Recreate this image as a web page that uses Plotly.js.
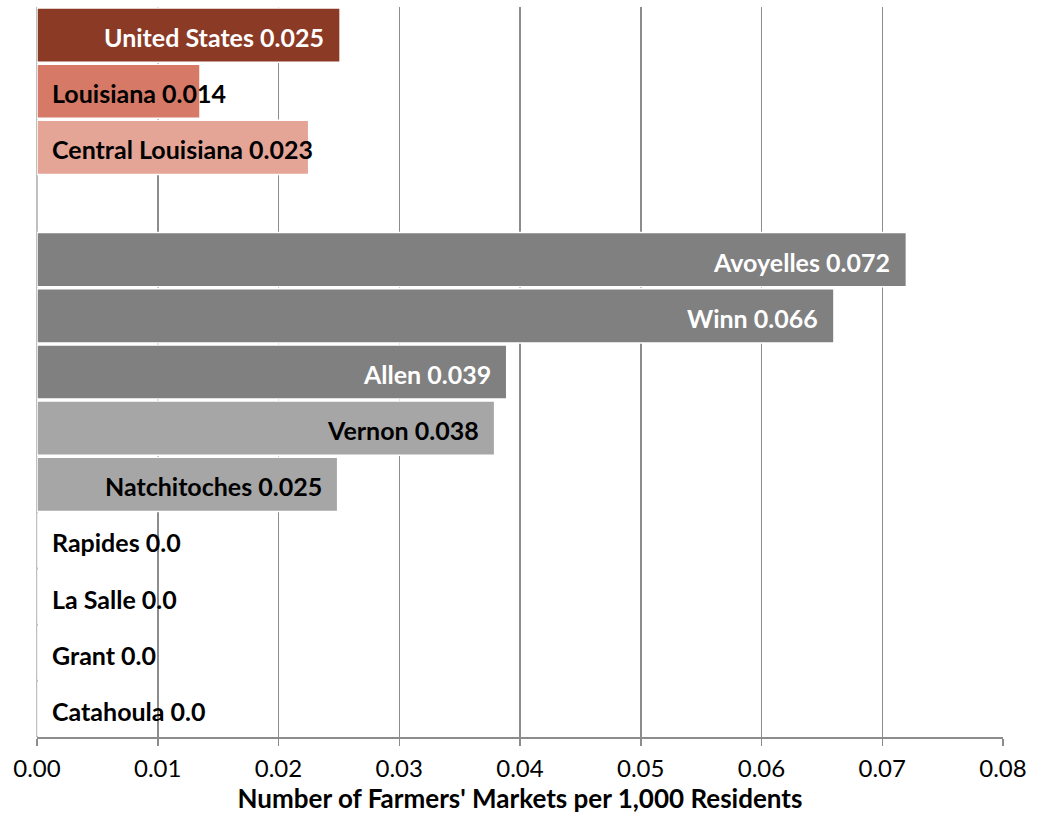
<!DOCTYPE html>
<html>
<head>
<meta charset="utf-8">
<script src="https://cdn.plot.ly/plotly-3.0.1.min.js"></script>
<style>html,body{margin:0;padding:0;background:#fff;}#chart{width:1045px;height:817px;}</style>
</head>
<body>
<div id="chart"></div>
<script>
// Data
var categories = ["United States", "Louisiana", "Central Louisiana", " ", "Avoyelles", "Winn", "Allen", "Vernon", "Natchitoches", "Rapides", "La Salle", "Grant", "Catahoula"];
var values = [0.0251, 0.0135, 0.0225, null, 0.0720, 0.0660, 0.0389, 0.0379, 0.0249, 0, 0, 0, 0];
var labelValues = ["0.025", "0.014", "0.023", "", "0.072", "0.066", "0.039", "0.038", "0.025", "0.0", "0.0", "0.0", "0.0"];
var xTickVals = [0, 0.01, 0.02, 0.03, 0.04, 0.05, 0.06, 0.07, 0.08];
var xTickText = ["0.00", "0.01", "0.02", "0.03", "0.04", "0.05", "0.06", "0.07", "0.08"];

// Styles
var barColors = ["#8B3A26", "#D67966", "#E4A597", "#ffffff", "#808080", "#808080", "#808080", "#A6A6A6", "#A6A6A6", "#A6A6A6", "#A6A6A6", "#A6A6A6", "#A6A6A6"];
var labelColors = ["#ffffff", "#000000", "#000000", "#000000", "#ffffff", "#ffffff", "#ffffff", "#000000", "#000000", "#000000", "#000000", "#000000", "#000000"];
var FONT = "Lato, 'DejaVu Sans', sans-serif";
var LABEL_SIZE = 25;

var W = 1045, H = 817;
var margin = {l: 37, r: 42, t: 7, b: 80};
var plotW = W - margin.l - margin.r;
var xMax = 0.08;

var canvas = document.createElement("canvas");
var ctx = canvas.getContext("2d");
ctx.font = "bold " + LABEL_SIZE + "px Lato";

var annotations = [];
for (var i = 0; i < categories.length; i++) {
  if (values[i] === null) continue;
  var txt = categories[i] + " " + labelValues[i];
  var tw = ctx.measureText(txt).width;
  var barPx = values[i] / xMax * plotW;
  var pad = 14;
  var fits = tw + 2 * pad <= barPx;
  annotations.push({
    x: fits ? values[i] : 0,
    y: categories[i],
    xref: "x", yref: "y",
    text: "<b>" + txt + "</b>",
    showarrow: false,
    xanchor: fits ? "right" : "left",
    xshift: fits ? -pad : 13,
    yshift: -2,
    font: {family: FONT, size: LABEL_SIZE, color: labelColors[i]}
  });
}

var trace = {
  type: "bar",
  orientation: "h",
  x: values,
  y: categories,
  marker: {color: barColors, line: {color: "#ffffff", width: 1.5}},
  hoverinfo: "none"
};

var layout = {
  width: W, height: H,
  margin: margin,
  paper_bgcolor: "#ffffff",
  plot_bgcolor: "#ffffff",
  showlegend: false,
  bargap: 0.035,
  font: {family: FONT, color: "#000"},
  xaxis: {
    range: [0, xMax],
    tickvals: xTickVals,
    ticktext: xTickText,
    showgrid: true,
    gridcolor: "#8c8c8c",
    gridwidth: 1.5,
    zeroline: true,
    zerolinecolor: "#c0c0c0",
    zerolinewidth: 1.5,
    showline: true,
    linecolor: "#8c8c8c",
    linewidth: 1.5,
    ticks: "outside",
    ticklen: 7,
    tickwidth: 1.5,
    tickcolor: "#8c8c8c",
    ticklabelstandoff: 3,
    tickfont: {family: FONT, size: 24, color: "#000"},
    title: {text: "<b>Number of Farmers' Markets per 1,000 Residents</b>", font: {family: FONT, size: 26, color: "#000"}, standoff: 7},
    fixedrange: true
  },
  yaxis: {
    type: "category",
    categoryorder: "array",
    categoryarray: categories,
    autorange: "reversed",
    showticklabels: false,
    showgrid: false,
    zeroline: false,
    showline: false,
    ticks: "",
    fixedrange: true
  },
  annotations: annotations
};

Plotly.newPlot("chart", [trace], layout, {displayModeBar: false, staticPlot: true});
</script>
</body>
</html>
